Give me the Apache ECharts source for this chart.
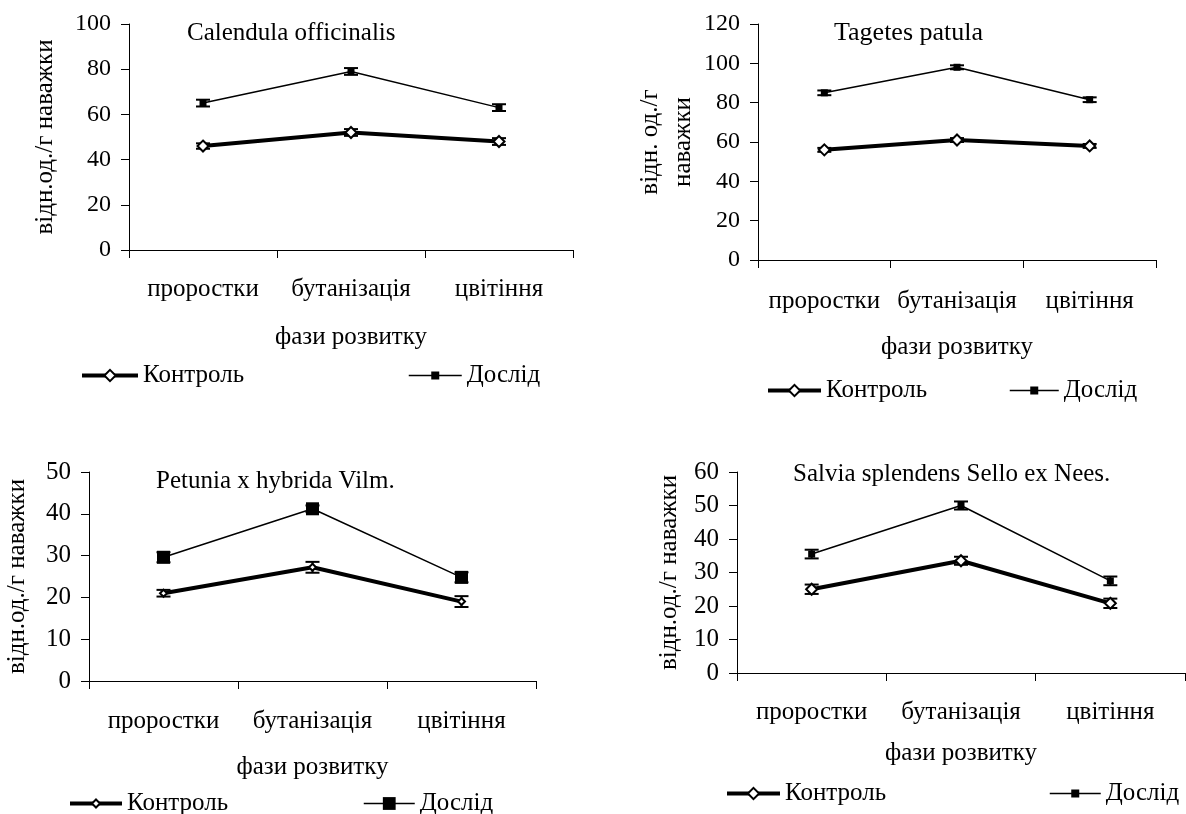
<!DOCTYPE html>
<html>
<head>
<meta charset="utf-8">
<script src="https://cdn.jsdelivr.net/npm/echarts@6/dist/echarts.min.js"></script>
<style>
html,body{margin:0;padding:0;background:#fff;}
#chart{width:1186px;height:814px;}
</style>
</head>
<body>
<div id="chart"></div>
<script>
// ---- data ----
const categories = ['проростки', 'бутанізація', 'цвітіння'];
const seriesNames = ['Контроль', 'Дослід'];
const panelTitles = ['Calendula officinalis', 'Tagetes patula', 'Petunia x hybrida Vilm.', 'Salvia splendens Sello ex Nees.'];
const xAxisTitle = 'фази розвитку';
const yAxisTitles = ['відн.од./г наважки', 'відн. од./г\nнаважки', 'відн.од./г наважки', 'відн.од./г наважки'];

const calendulaControl = [46, 52, 48];
const calendulaControlErr = [1.2, 1.5, 1.5];
const calendulaExp = [65, 79, 63];
const calendulaExpErr = [1.5, 1.5, 1.5];

const tagetesControl = [56, 61, 58];
const tagetesControlErr = [1, 1, 1];
const tagetesExp = [85, 98, 81.5];
const tagetesExpErr = [1.2, 1, 1.2];

const petuniaControl = [21, 27.2, 19];
const petuniaControlErr = [0.8, 1.3, 1.3];
const petuniaExp = [29.6, 41.2, 24.8];
const petuniaExpErr = [1.2, 0.8, 1.2];

const salviaControl = [25, 33.5, 20.8];
const salviaControlErr = [1.4, 1.2, 1.4];
const salviaExp = [35.5, 50, 27.5];
const salviaExpErr = [1.3, 1.2, 1.3];

const yMax = [100, 120, 50, 60];
const yInterval = [20, 20, 10, 10];

// ---- layout ----
const FONT = "'Liberation Serif', 'Times New Roman', serif";
const grids = [
  {left: 129, top: 24, width: 444, height: 226},
  {left: 758, top: 24, width: 398, height: 236},
  {left: 86, top: 472, width: 450, height: 209},
  {left: 737, top: 472, width: 448, height: 201}
];
const tickFont = [24, 24, 25, 25];
const titleFont = [25, 26, 25, 25];
const catMargin = [27, 29, 28, 27];
const nameGapX = [75, 75, 74, 68];
const nameGapY = [67, 46, 55, 51];
const titlePos = [[187, 21], [834, 20], [156, 469], [793, 462]];
const ctrlSym = [11, 11, 7, 11];
const expSym = [7, 7, 13, 7];
const legendPos = [
  {c: [80, 363, 56, 14], e: [408, 363, 53, 10]},
  {c: [766, 378, 53, 14], e: [1009, 378, 49, 10]},
  {c: [68, 791, 52, 10], e: [363, 791, 51, 16]},
  {c: [725, 781, 53, 14], e: [1049, 781, 51, 10]}
];
const lineWidths = [4, 1.5];

const ctrlData = [calendulaControl, tagetesControl, petuniaControl, salviaControl];
const ctrlErr = [calendulaControlErr, tagetesControlErr, petuniaControlErr, salviaControlErr];
const expData = [calendulaExp, tagetesExp, petuniaExp, salviaExp];
const expErr = [calendulaExpErr, tagetesExpErr, petuniaExpErr, salviaExpErr];

function errSeries(idx, vals, errs) {
  const h = 7;
  return {
    type: 'custom', xAxisIndex: idx, yAxisIndex: idx, silent: true, z: 4,
    data: vals.map((v, i) => [i, v - errs[i], v + errs[i]]),
    renderItem: function (params, api) {
      const lo = api.coord([api.value(0), api.value(1)]);
      const hi = api.coord([api.value(0), api.value(2)]);
      const x = lo[0];
      const st = {stroke: '#000', lineWidth: 2};
      return {type: 'group', children: [
        {type: 'line', shape: {x1: x, y1: lo[1], x2: x, y2: hi[1]}, style: st},
        {type: 'line', shape: {x1: x - h, y1: lo[1], x2: x + h, y2: lo[1]}, style: st},
        {type: 'line', shape: {x1: x - h, y1: hi[1], x2: x + h, y2: hi[1]}, style: st}
      ]};
    }
  };
}

const option = {
  backgroundColor: '#fff',
  animation: false,
  textStyle: {fontFamily: FONT, color: '#000'},
  grid: grids.map(g => Object.assign({containLabel: false}, g)),
  title: panelTitles.map((t, i) => ({
    text: t, left: titlePos[i][0], top: titlePos[i][1], padding: 0,
    textStyle: {fontFamily: FONT, fontSize: titleFont[i], fontWeight: 'normal', color: '#000'}
  })),
  xAxis: grids.map((g, i) => ({
    type: 'category', gridIndex: i, data: categories, boundaryGap: true,
    name: xAxisTitle, nameLocation: 'middle', nameGap: nameGapX[i],
    nameTextStyle: {fontFamily: FONT, fontSize: 25, color: '#000'},
    axisLine: {show: true, lineStyle: {color: '#000', width: 1}},
    axisTick: {show: true, length: 8, lineStyle: {color: '#000'}},
    axisLabel: {fontFamily: FONT, fontSize: 25, color: '#000', margin: catMargin[i], interval: 0},
    splitLine: {show: false}
  })),
  yAxis: grids.map((g, i) => ({
    type: 'value', gridIndex: i, min: 0, max: yMax[i], interval: yInterval[i],
    name: yAxisTitles[i], nameLocation: 'middle', nameGap: nameGapY[i], nameRotate: 90,
    nameTextStyle: {fontFamily: FONT, fontSize: 25, color: '#000', lineHeight: 33},
    axisLine: {show: true, lineStyle: {color: '#000', width: 1}},
    axisTick: {show: true, length: 8, lineStyle: {color: '#000'}},
    axisLabel: {fontFamily: FONT, fontSize: tickFont[i], color: '#000', margin: 18},
    splitLine: {show: false}
  })),
  legend: [],
  series: []
};

for (let i = 0; i < 4; i++) {
  option.series.push({
    name: seriesNames[0], type: 'line', xAxisIndex: i, yAxisIndex: i,
    data: ctrlData[i], symbol: 'diamond', symbolSize: ctrlSym[i], z: 5,
    lineStyle: {color: '#000', width: lineWidths[0]},
    itemStyle: {color: '#fff', borderColor: '#000', borderWidth: 2}
  });
  option.series.push({
    name: seriesNames[1], type: 'line', xAxisIndex: i, yAxisIndex: i,
    data: expData[i], symbol: 'rect', symbolSize: expSym[i], z: 5,
    lineStyle: {color: '#000', width: lineWidths[1]},
    itemStyle: {color: '#000', borderColor: '#000', borderWidth: 0}
  });
  option.series.push(errSeries(i, ctrlData[i], ctrlErr[i]));
  option.series.push(errSeries(i, expData[i], expErr[i]));

  const lp = legendPos[i];
  [['c', 0], ['e', 1]].forEach(([k, si]) => {
    const p = lp[k];
    option.legend.push({
      data: [seriesNames[si]], left: p[0], top: p[1], padding: 0, itemGap: 0,
      itemWidth: p[2], itemHeight: p[3], selectedMode: false,
      lineStyle: {width: lineWidths[si], color: '#000'},
      textStyle: {fontFamily: FONT, fontSize: 25, color: '#000', padding: [0, 0, 0, 0]}
    });
  });
}

const chart = echarts.init(document.getElementById('chart'));
chart.setOption(option);
</script>
</body>
</html>
